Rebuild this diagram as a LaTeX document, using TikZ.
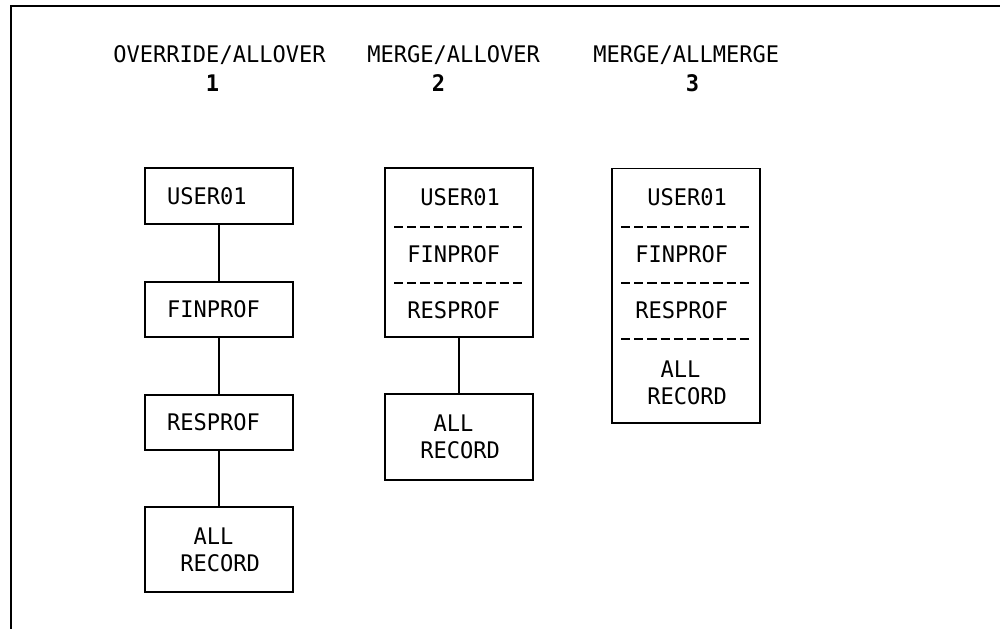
\documentclass[tikz,border=0pt]{standalone}
\usepackage{fontspec}
\setmonofont{DejaVu Sans Mono}[FakeStretch=0.965]
\usetikzlibrary{positioning}

\begin{document}
\begin{tikzpicture}[x=0.02cm, y=-0.02cm,
  every node/.style={font=\ttfamily\fontsize{13}{15.4}\selectfont},
  head/.style={inner sep=0pt, anchor=west},
  num/.style={inner sep=0pt, font=\ttfamily\bfseries\fontsize{13}{15.4}\selectfont},
  panel/.style={draw, line width=0.6pt, text width=2.08cm, inner xsep=0.44cm,
    inner ysep=0pt, align=left},
  item/.style={inner sep=0pt, anchor=west, align=left},
  sep/.style={line width=1.4pt, dash pattern=on 0.184cm off 0.08cm},
  link/.style={line width=0.6pt}]
  \useasboundingbox (0,0) rectangle (1000,629);
  % outer frame (top and left only)
  \draw[line width=0.8pt] (1000,6) -- (11,6) -- (11,629);

  % column headings
  \node[head] (h1) at (113,55.5) {OVERRIDE/ALLOVER};
  \node[head] (h2) at (367,55.5) {MERGE/ALLOVER};
  \node[head] (h3) at (593,55.5) {MERGE/ALLMERGE};
  \node[num] (n1) at (212.5,83.5) {1};
  \node[num] (n2) at (438.5,83.5) {2};
  \node[num] (n3) at (692.5,83.5) {3};

  % 1: one box per profile
  \node[panel, minimum height=1.12cm] (user1) at (219,196) {USER01};
  \node[panel, minimum height=1.10cm] (fin1) at (219,309.5) {FINPROF};
  \node[panel, minimum height=1.10cm] (res1) at (219,422.5) {RESPROF};
  \node[panel, minimum height=1.70cm] (all1) at (219,549.5)
    {\phantom{00}ALL\\\phantom{0}RECORD};
  \draw[link] (user1) -- (fin1);
  \draw[link] (fin1) -- (res1);
  \draw[link] (res1) -- (all1);

  % 2: merged profiles, ALL RECORD kept apart
  \node[panel, minimum height=3.38cm] (stack2) at (459,252.5) {};
  \node[item] (user2) at (420,197) {USER01};
  \node[item] (fin2) at (407,254) {FINPROF};
  \node[item] (res2) at (407,310) {RESPROF};
  \draw[sep] (394,227) -- (523,227);
  \draw[sep] (394,283) -- (523,283);
  \node[panel, minimum height=1.72cm] (all2) at (459,437)
    {\phantom{00}ALL\\\phantom{0}RECORD};
  \draw[link] (stack2) -- (all2);

  % 3: everything merged into one box
  \node[panel, minimum height=5.10cm] (stack3) at (686,295.5) {};
  \node[item] (user3) at (647,197) {USER01};
  \node[item] (fin3) at (635,254) {FINPROF};
  \node[item] (res3) at (635,310) {RESPROF};
  \node[item] (all3) at (647,382.5) {\phantom{0}ALL\\RECORD};
  \draw[sep] (621,227) -- (750,227);
  \draw[sep] (621,283) -- (750,283);
  \draw[sep] (621,339) -- (750,339);
\end{tikzpicture}
\end{document}
